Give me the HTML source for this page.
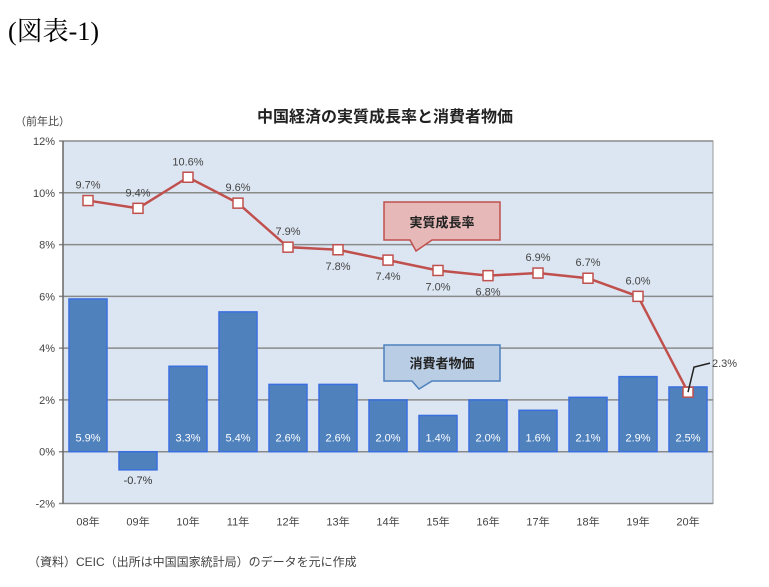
<!DOCTYPE html>
<html><head><meta charset="utf-8"><style>
body{margin:0;background:#fff;width:769px;height:582px;overflow:hidden;font-family:"Liberation Sans","Noto Sans CJK JP",sans-serif}
</style></head><body>
<svg width="769" height="582" xmlns="http://www.w3.org/2000/svg" font-family="Liberation Sans, Noto Sans CJK JP, sans-serif">
<text x="8" y="40" font-size="26" font-family="Liberation Serif, Noto Serif CJK SC, serif" fill="#000">(図表-1)</text>
<text x="385" y="122" font-size="16" font-weight="bold" text-anchor="middle" fill="#222">中国経済の実質成長率と消費者物価</text>
<text x="15" y="125" font-size="11" fill="#444">（前年比）</text>
<text x="28" y="566" font-size="12" fill="#444">（資料）CEIC（出所は中国国家統計局）のデータを元に作成</text>
<g id="plot"></g>
</svg>
<script>
const categories=["08年","09年","10年","11年","12年","13年","14年","15年","16年","17年","18年","19年","20年"];
const cpi=[5.9,-0.7,3.3,5.4,2.6,2.6,2.0,1.4,2.0,1.6,2.1,2.9,2.5];
const gdp=[9.7,9.4,10.6,9.6,7.9,7.8,7.4,7.0,6.8,6.9,6.7,6.0,2.3];
const yTicks=[-2,0,2,4,6,8,10,12];
const X0=63,X1=713,Y0=503.5,Y1=141;
const ns="http://www.w3.org/2000/svg";
const g=document.getElementById('plot');
const yS=v=>Y0-(v+2)/14*(Y0-Y1);
const bw=(X1-X0)/categories.length;
const xS=i=>X0+bw*(i+0.5);
function el(t,a,txt){const e=document.createElementNS(ns,t);for(const k in a)e.setAttribute(k,a[k]);if(txt!==undefined)e.textContent=txt;g.appendChild(e);return e;}
let e=el('rect',{x:X0,y:Y1,width:X1-X0,height:Y0-Y1,fill:'#dce6f2',stroke:'#999'});

yTicks.forEach(v=>{
 let l=el('line',{x1:X0-4,x2:X1,y1:yS(v),y2:yS(v),stroke:'#8a8a8a','stroke-width':1.5});
 
 let t=el('text',{x:X0-8,y:yS(v)+4,'font-size':11,'text-anchor':'end',fill:'#444'},v+'%');
 
});
el('line',{x1:X0,x2:X0,y1:Y1,y2:Y0,stroke:'#666','stroke-width':1.5});
categories.forEach((c,i)=>{
 const v=cpi[i],top=yS(Math.max(v,0)),bot=yS(Math.min(v,0));
 let r=el('rect',{x:xS(i)-19,y:top,width:38,height:bot-top,fill:'#4f81bd',stroke:'#3a6fe0','stroke-width':1.5});
 
 let ly=v>0?yS(0)-10:bot+14;
 let t=el('text',{x:xS(i),y:ly,'font-size':11,'text-anchor':'middle',fill:v>0?'#fff':'#333'},v.toFixed(1)+'%');
 
 let xl=el('text',{x:xS(i),y:Y0+22,'font-size':11,'text-anchor':'middle',fill:'#444'},c);
 
});
let p=el('polyline',{points:gdp.map((v,i)=>xS(i)+','+yS(v)).join(' '),fill:'none',stroke:'#c0504d','stroke-width':2.5});

const above=[1,1,1,1,1,0,0,0,0,1,1,1,1];
gdp.forEach((v,i)=>{
 let m=el('rect',{x:xS(i)-5,y:yS(v)-5,width:10,height:10,fill:'#fff',stroke:'#c0504d','stroke-width':1.5});
 
 let tx=xS(i),ty=above[i]?yS(v)-12:yS(v)+20,anc='middle';
 if(i===categories.length-1){tx=xS(i)+24;ty=yS(v)-25;anc='start';el('path',{d:`M${xS(i)} ${yS(v)} L${xS(i)+6} ${yS(v)-25} L${xS(i)+22} ${yS(v)-29}`,fill:'none',stroke:'#222','stroke-width':1.5});}
 let t=el('text',{x:tx,y:ty,'font-size':11,'text-anchor':anc,fill:'#444'},v.toFixed(1)+'%');
 
});
let c1=el('path',{d:'M384 202 H500 V240 H432 L416 251 L410 240 H384 Z',fill:'#e6b9b8',stroke:'#c0504d','stroke-width':1.5});

let c1t=el('text',{x:442,y:227,'font-size':13,'font-weight':'bold','text-anchor':'middle',fill:'#222'},'実質成長率');

let c2=el('path',{d:'M384 345 H500 V381 H432 L419 389 L412 381 H384 Z',fill:'#b9cde5',stroke:'#4f81bd','stroke-width':1.5});

let c2t=el('text',{x:442,y:368,'font-size':13,'font-weight':'bold','text-anchor':'middle',fill:'#222'},'消費者物価');

</script>
</body></html>
